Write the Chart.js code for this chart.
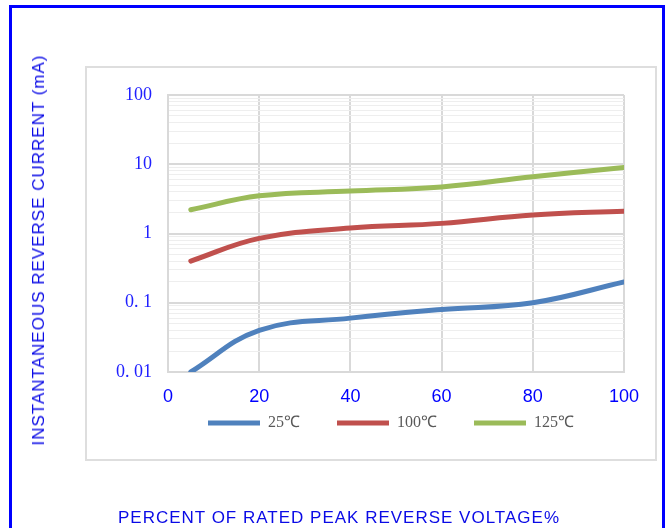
<!DOCTYPE html>
<html>
<head>
<meta charset="utf-8">
<script src="https://cdn.jsdelivr.net/npm/chart.js@4.4.0/dist/chart.umd.min.js"></script>
<style>
  body { margin: 0; background: #fff; width: 668px; height: 528px; overflow: hidden; position: relative; }
  #frame { position: absolute; left: 9px; top: 5px; width: 650px; height: 600px; border: 3px solid #0000ff; }
  #plotbox { position: absolute; left: 85px; top: 66px; width: 568px; height: 391px; border: 2px solid #dedede; }
  #chart { position: absolute; left: 0; top: 0; }
  .axis-title { position: absolute; white-space: nowrap; font: 17px 'Liberation Sans', Arial, sans-serif; letter-spacing: 1px; color: #0a0ae6; }
  #ytitle { left: 39px; top: 250px; transform: translate(-50%, -50%) rotate(-90deg); }
  #xtitle { left: 339px; top: 518px; transform: translate(-50%, -50%); }
</style>
</head>
<body>
<div id="frame"></div>
<div id="plotbox"></div>
<canvas id="chart" width="668" height="528"></canvas>
<div class="axis-title" id="ytitle">INSTANTANEOUS REVERSE CURRENT (mA)</div>
<div class="axis-title" id="xtitle">PERCENT OF RATED PEAK REVERSE VOLTAGE%</div>
<script>
// data
const voltagePct = [5, 20, 40, 60, 80, 100];
const current25 = [0.01, 0.04, 0.06, 0.08, 0.1, 0.2];
const current100 = [0.4, 0.85, 1.2, 1.4, 1.85, 2.1];
const current125 = [2.2, 3.5, 4.1, 4.7, 6.6, 9];
const seriesNames = ['25℃', '100℃', '125℃'];
const seriesColors = ['#4f81bd', '#c0504d', '#9bbb59'];
const decadeTicks = [0.01, 0.1, 1, 10, 100];
const decadeLabels = ['0. 01', '0. 1', '1', '10', '100'];
const xTicks = [0, 20, 40, 60, 80, 100];

const isDecade = v => decadeTicks.some(d => Math.abs(v / d - 1) < 1e-6);

const toPoints = ys => voltagePct.map((x, i) => ({ x: x, y: ys[i] }));

const datasets = [current25, current100, current125].map((ys, i) => ({
  label: seriesNames[i],
  data: toPoints(ys),
  borderColor: seriesColors[i],
  backgroundColor: seriesColors[i],
  borderWidth: 5,
  borderCapStyle: 'round',
  borderJoinStyle: 'round',
  pointRadius: 0,
  tension: 0.4,
  fill: false
}));

// legend sits closer to the tick labels than its item spacing would allow
const legendLift = {
  id: 'legendLift',
  afterLayout(chart) {
    const lg = chart.legend;
    lg.top -= 30;
    lg.bottom -= 30;
    lg.left -= 5;
    lg.right -= 5;
  }
};

new Chart(document.getElementById('chart'), {
  type: 'line',
  data: { datasets },
  plugins: [legendLift],
  options: {
    responsive: false,
    animation: false,
    devicePixelRatio: 1,
    layout: { padding: { top: 95, right: 44, bottom: 57, left: 0 } },
    plugins: {
      tooltip: { enabled: false },
      legend: {
        position: 'bottom',
        fullSize: false,
        labels: {
          usePointStyle: true,
          pointStyle: 'line',
          pointStyleWidth: 52,
          padding: 37,
          color: '#595959',
          font: { family: "'Liberation Serif', 'Times New Roman', serif", size: 16 }
        }
      }
    },
    scales: {
      x: {
        type: 'linear',
        min: 0,
        max: 100,
        afterBuildTicks: scale => { scale.ticks = xTicks.map(v => ({ value: v })); },
        afterFit: scale => { scale.height = 36; },
        grid: { color: '#d9d9d9', lineWidth: 2, drawTicks: false },
        border: { display: true, color: '#d9d9d9', width: 2 },
        ticks: {
          padding: 14,
          color: '#0000ff',
          font: { family: "'Liberation Sans', Arial, sans-serif", size: 18 }
        }
      },
      y: {
        type: 'logarithmic',
        min: 0.01,
        max: 100,
        afterBuildTicks: scale => {
          const ticks = [];
          decadeTicks.forEach((d, i) => {
            if (i === decadeTicks.length - 1) { ticks.push({ value: d }); return; }
            for (let k = 1; k < 10; k++) ticks.push({ value: d * k });
          });
          scale.ticks = ticks;
        },
        afterFit: scale => { scale.width = 168; },
        grid: {
          drawTicks: false,
          color: ctx => isDecade(ctx.tick.value) ? '#d9d9d9' : '#eeeeee',
          lineWidth: ctx => isDecade(ctx.tick.value) ? 2 : 1
        },
        border: { display: true, color: '#d9d9d9', width: 2 },
        ticks: {
          autoSkip: false,
          padding: 16,
          color: '#2020ff',
          font: { family: "'Liberation Serif', 'Times New Roman', serif", size: 18 },
          callback: value => {
            const i = decadeTicks.findIndex(d => Math.abs(value / d - 1) < 1e-6);
            return i >= 0 ? decadeLabels[i] : '';
          }
        }
      }
    }
  }
});
</script>
</body>
</html>
